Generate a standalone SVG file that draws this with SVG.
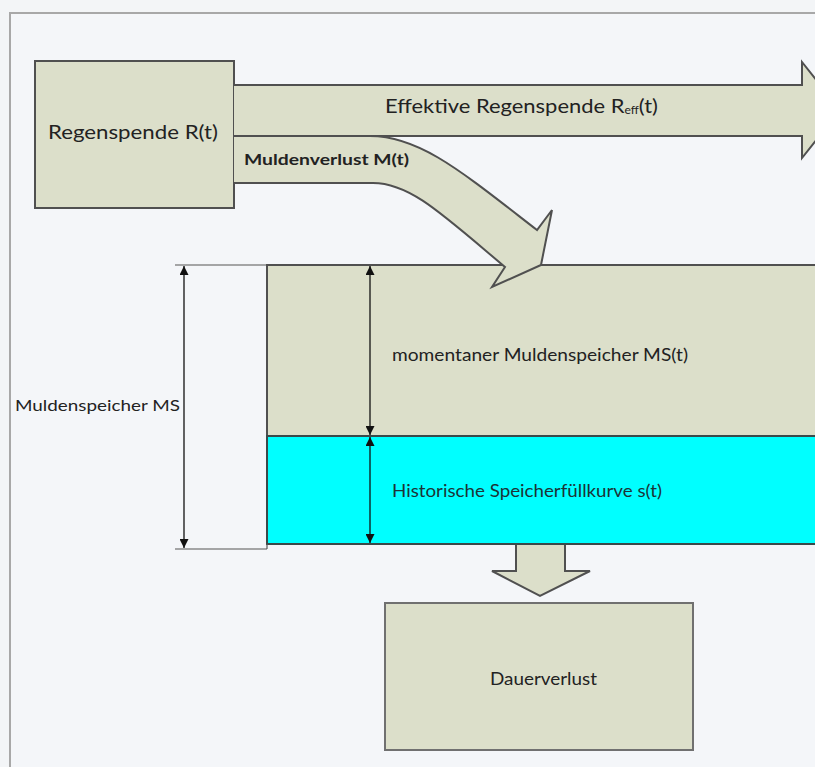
<svg xmlns="http://www.w3.org/2000/svg" width="815" height="767" viewBox="0 0 815 767">
<defs>
<style>
.box{fill:#dcdfca;stroke:#505050;stroke-width:2}
.lbl{font-family:Lato,"Open Sans","Liberation Sans",sans-serif;fill:#222}
.dim{stroke:#111;stroke-width:1.3;fill:none}
.thin{stroke:#555;stroke-width:1.2;fill:none}
</style>
<marker id="ah" viewBox="0 0 10 10" refX="10" refY="5" markerWidth="9" markerHeight="9" markerUnits="userSpaceOnUse" orient="auto-start-reverse">
<path d="M0,0 L10,5 L0,10 Z" fill="#111"/>
</marker>
</defs>
<rect x="0" y="0" width="815" height="767" fill="#f3f5f7"/>
<rect id="frame" x="10" y="13" width="830" height="780" fill="#f4f6f9" stroke="#a8a8a8" stroke-width="2"/>

<g id="node-regenspende">
<rect class="box" x="35" y="61" width="199" height="147"/>
<text class="lbl" x="48" y="139" font-size="20" textLength="170" lengthAdjust="spacingAndGlyphs">Regenspende R(t)</text>
</g>

<g id="node-muldenspeicher">
<rect class="box" x="267" y="265" width="560" height="171"/>
<text class="lbl" x="392" y="361" font-size="17" textLength="296" lengthAdjust="spacingAndGlyphs">momentaner Muldenspeicher MS(t)</text>
</g>

<g id="node-historisch">
<rect x="267" y="436" width="560" height="108" fill="#00ffff" stroke="#3a4a4a" stroke-width="2"/>
<text class="lbl" x="392" y="497" font-size="17" style="fill:#1c3336" textLength="270" lengthAdjust="spacingAndGlyphs">Historische Speicherfüllkurve s(t)</text>
</g>

<g id="node-dauerverlust">
<rect class="box" x="385" y="603" width="308" height="147" style="stroke:#707070"/>
<text class="lbl" x="490" y="685" font-size="17" textLength="107" lengthAdjust="spacingAndGlyphs">Dauerverlust</text>
</g>

<g id="connectors">
<path id="effektiv-arrow" class="box" d="M234,85 L802,85 L802,62 L840,110 L802,158 L802,136 L234,136"/>
<path id="muldenverlust-arrow" class="box" d="M234,136 L370,136 C420,136 462,172 537,230 L552,210 L541,265 L492,287 L505,267 C442,214 410,183 373,183 L234,183"/>
<path id="dauer-arrow" class="box" d="M516,545 L516,571 L492,571 L540,596 L590,571 L565,571 L565,545"/>
<text class="lbl" x="385" y="113" font-size="20" textLength="273" lengthAdjust="spacingAndGlyphs">Effektive Regenspende R<tspan font-size="11" dy="1">eff</tspan><tspan dy="-1">(t)</tspan></text>
<text class="lbl" x="244" y="165" font-size="16" font-weight="bold" textLength="165" lengthAdjust="spacingAndGlyphs">Muldenverlust M(t)</text>
</g>

<g id="dimensions">
<line class="thin" x1="175" y1="265" x2="267" y2="265"/>
<line class="thin" x1="175" y1="549" x2="267" y2="549"/>
<line class="thin" x1="267" y1="544" x2="267" y2="549"/>
<line class="dim" x1="184" y1="266" x2="184" y2="548" marker-start="url(#ah)" marker-end="url(#ah)"/>
<line class="dim" x1="370" y1="266" x2="370" y2="435" marker-start="url(#ah)" marker-end="url(#ah)"/>
<line class="dim" x1="370" y1="437" x2="370" y2="543" marker-start="url(#ah)" marker-end="url(#ah)"/>
<text class="lbl" x="15" y="411" font-size="16" textLength="165" lengthAdjust="spacingAndGlyphs">Muldenspeicher MS</text>
</g>
</svg>
